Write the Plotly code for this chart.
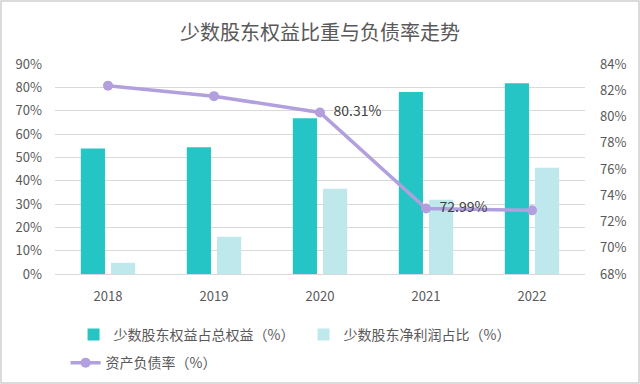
import plotly.graph_objects as go

years = ["2018", "2019", "2020", "2021", "2022"]
minority_equity = [53.8, 54.3, 66.8, 78.0, 81.8]
minority_profit = [4.8, 16.0, 36.5, 31.8, 45.5]
debt_ratio = [82.35, 81.55, 80.31, 72.99, 72.85]
line_labels = ["", "", "  80.31%", "  72.99%", ""]

font_cjk = "Noto Sans CJK SC"
gray = "#595959"

fig = go.Figure()
fig.add_trace(go.Bar(x=years, y=minority_equity, name="少数股东权益占总权益（%）",
                     marker=dict(color="#25C5C6", line=dict(width=0))))
fig.add_trace(go.Bar(x=years, y=minority_profit, name="少数股东净利润占比（%）",
                     marker=dict(color="#BEE8EC", line=dict(width=0))))
fig.add_trace(go.Scatter(x=years, y=debt_ratio, name="资产负债率（%）", yaxis="y2",
                         legend="legend2",
                         mode="lines+markers+text", text=line_labels,
                         textposition="middle right",
                         textfont=dict(size=14, color="#404040", family=font_cjk),
                         line=dict(color="#B29FDE", width=3.5),
                         marker=dict(color="#B29FDE", size=10)))

fig.update_layout(
    width=640, height=384,
    margin=dict(l=55, r=55, t=64, b=110, autoexpand=False),
    paper_bgcolor="white", plot_bgcolor="white",
    title=dict(text="少数股东权益比重与负债率走势", x=0.5, xanchor="center", y=0.915, yanchor="middle",
               font=dict(size=20, color=gray, family=font_cjk)),
    barmode="group", bargap=0.43, bargroupgap=0.2,
    font=dict(family=font_cjk, color=gray, size=13),
    xaxis=dict(showgrid=False, showline=True, linecolor="#d9d9d9", ticks="",
               ticklabelstandoff=10, tickfont=dict(size=13, color=gray)),
    yaxis=dict(range=[0, 90], dtick=10, ticksuffix="%", showgrid=True, gridcolor="#d9d9d9",
               zeroline=False, ticklabelstandoff=12, tickfont=dict(size=13, color=gray)),
    yaxis2=dict(range=[68, 84], dtick=2, ticksuffix="%", overlaying="y", side="right",
                showgrid=False, zeroline=False, ticklabelstandoff=14,
                tickfont=dict(size=13, color=gray)),
    legend=dict(orientation="h", x=0.035, xanchor="left", y=-0.29, yanchor="middle",
                font=dict(size=14, color=gray, family=font_cjk),
                entrywidth=185, entrywidthmode="pixels", traceorder="normal"),
    legend2=dict(orientation="h", x=0.02, xanchor="left", y=-0.424, yanchor="middle",
                 font=dict(size=14, color=gray, family=font_cjk)),
    showlegend=True,
)
fig.add_shape(type="rect", xref="paper", yref="paper", x0=-54/530, x1=1+54/530,
              y0=-109/210, y1=1+63/210, line=dict(color="#d0d0d0", width=1.5), layer="below")

fig.write_html("out.html", config={"displayModeBar": False},
               post_script="document.body.style.margin='0';")
